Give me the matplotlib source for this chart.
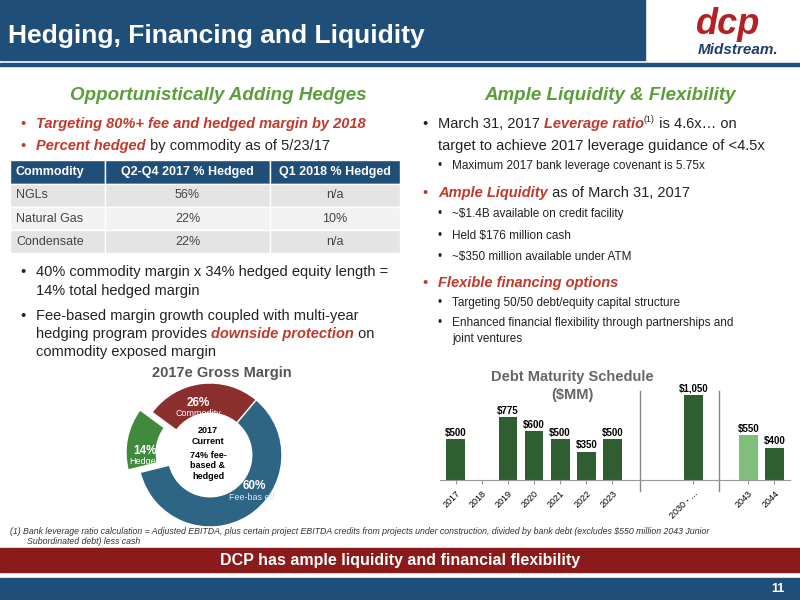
import matplotlib
matplotlib.use("Agg")
import matplotlib.pyplot as plt
from matplotlib.patches import Rectangle

plt.rcParams['font.family'] = ['Liberation Sans', 'DejaVu Sans']

# ---- data ----
table_header = ["Commodity", "Q2-Q4 2017 % Hedged", "Q1 2018 % Hedged"]
table_rows = [["NGLs", "56%", "n/a"], ["Natural Gas", "22%", "10%"], ["Condensate", "22%", "n/a"]]
donut_labels = ["Commodity", "Hedged", "Fee-based"]
donut_values = [26, 14, 60]
years = ["2017", "2018", "2019", "2020", "2021", "2022", "2023", "2030 - ...", "2043", "2044"]
debt = [500, 0, 775, 600, 500, 350, 500, 1050, 550, 400]
positions = [0, 1, 2, 3, 4, 5, 6, 9.1, 11.2, 12.2]

BLUE = "#1f4e79"
RED = "#c0392b"
GREEN = "#5a9e3a"
fig = plt.figure(figsize=(8, 6), dpi=100)
fig.patch.set_facecolor("white")

def fx(x): return x / 800
def fy(y): return 1 - y / 600

def T(x, y, s, **kw):
    kw.setdefault("va", "center")
    kw.setdefault("zorder", 10)
    return fig.text(fx(x), fy(y), s, **kw)

renderer = fig.canvas.get_renderer()
def runs(x, y, parts, size=10.5):
    for s, st in parts:
        kw = dict(fontsize=size, color="#222222")
        if st == "r":
            kw.update(color=RED, fontweight="bold", fontstyle="italic")
        elif st == "sup":
            kw.update(fontsize=size * 0.6)
        t = T(x, y - (4 if st == "sup" else 0), s, **kw)
        bb = t.get_window_extent(renderer)
        x += bb.width

# header bar
fig.add_artist(Rectangle((0, fy(60)), fx(645), 60 / 600, transform=fig.transFigure, color=BLUE))
fig.add_artist(Rectangle((0, fy(66)), 1, 3 / 600, transform=fig.transFigure, color=BLUE))
T(8, 36, "Hedging, Financing and Liquidity", color="white", fontsize=19, fontweight="bold")
T(728, 24, "dcp", color="#b22222", fontsize=26, fontweight="bold", fontstyle="italic", ha="center")
T(738, 50, "Midstream.", color="#1f3e6a", fontsize=11, fontweight="bold", fontstyle="italic", ha="center")

# footer
fig.add_artist(Rectangle((0, fy(572)), 1, 24 / 600, transform=fig.transFigure, color="#8b1a1a"))
T(400, 560, "DCP has ample liquidity and financial flexibility", color="white", fontsize=11.5, fontweight="bold", ha="center")
fig.add_artist(Rectangle((0, 0), 1, 22 / 600, transform=fig.transFigure, color=BLUE))
T(778, 589, "11", color="white", fontsize=9, fontweight="bold", ha="center")

# section headers
T(218, 95, "Opportunistically Adding Hedges", color=GREEN, fontsize=13.5, fontweight="bold", fontstyle="italic", ha="center")
T(610, 95, "Ample Liquidity & Flexibility", color=GREEN, fontsize=13.5, fontweight="bold", fontstyle="italic", ha="center")

# left bullets
T(20, 124, "•", color=RED, fontsize=10.5)
runs(36, 124, [("Targeting 80%+ fee and hedged margin by 2018", "r")])
T(20, 146, "•", color=RED, fontsize=10.5)
runs(36, 146, [("Percent hedged", "r"), (" by commodity as of 5/23/17", "n")])

# table
colx = [10, 105, 270, 400]
rowy = [160, 184, 207, 230, 253]
for j in range(3):
    fig.add_artist(Rectangle((fx(colx[j]), fy(rowy[1])), (colx[j + 1] - colx[j]) / 800, (rowy[1] - rowy[0]) / 600,
                             transform=fig.transFigure, facecolor=BLUE, edgecolor="white", lw=1))
    T(colx[j] + (6 if j == 0 else (colx[j + 1] - colx[j]) / 2), (rowy[0] + rowy[1]) / 2, table_header[j],
      color="white", fontsize=9, fontweight="bold", ha="left" if j == 0 else "center")
for i, row in enumerate(table_rows):
    fc = "#e4e4e4" if i % 2 == 0 else "#f2f2f2"
    for j in range(3):
        fig.add_artist(Rectangle((fx(colx[j]), fy(rowy[i + 2])), (colx[j + 1] - colx[j]) / 800, (rowy[i + 2] - rowy[i + 1]) / 600,
                                 transform=fig.transFigure, facecolor=fc, edgecolor="white", lw=1))
        T(colx[j] + (6 if j == 0 else (colx[j + 1] - colx[j]) / 2), (rowy[i + 1] + rowy[i + 2]) / 2, row[j],
          color="#444444", fontsize=9, ha="left" if j == 0 else "center")

T(20, 272, "•", fontsize=10.5, color="#222222")
runs(36, 272, [("40% commodity margin x 34% hedged equity length =", "n")])
runs(36, 291, [("14% total hedged margin", "n")])
T(20, 316, "•", fontsize=10.5, color="#222222")
runs(36, 316, [("Fee-based margin growth coupled with multi-year", "n")])
runs(36, 334, [("hedging program provides ", "n"), ("downside protection", "r"), (" on", "n")])
runs(36, 352, [("commodity exposed margin", "n")])

# right bullets
T(422, 124, "•", fontsize=10.5, color="#222222")
runs(438, 124, [("March 31, 2017 ", "n"), ("Leverage ratio", "r"), ("(1)", "sup"), (" is 4.6x… on", "n")])
runs(438, 146, [("target to achieve 2017 leverage guidance of <4.5x", "n")])
T(438, 166, "•", fontsize=8.5, color="#222222")
runs(452, 166, [("Maximum 2017 bank leverage covenant is 5.75x", "n")], size=8.5)
T(422, 193, "•", fontsize=10.5, color=RED)
runs(438, 193, [("Ample Liquidity", "r"), (" as of March 31, 2017", "n")])
for yy, s in [(214, "~$1.4B available on credit facility"), (236, "Held $176 million cash"),
              (257, "~$350 million available under ATM")]:
    T(438, yy, "•", fontsize=8.5, color="#222222")
    runs(452, yy, [(s, "n")], size=8.5)
T(422, 283, "•", fontsize=10.5, color=RED)
runs(438, 283, [("Flexible financing options", "r")])
for yy, s in [(303, "Targeting 50/50 debt/equity capital structure"),
              (323, "Enhanced financial flexibility through partnerships and")]:
    T(438, yy, "•", fontsize=8.5, color="#222222")
    runs(452, yy, [(s, "n")], size=8.5)
runs(452, 339, [("joint ventures", "n")], size=8.5)

# donut
T(222, 373, "2017e Gross Margin", color="#555555", fontsize=10.5, fontweight="bold", ha="center")
cx, cy, R = 210, 455, 72
half = 1.3 * R
axd = fig.add_axes([fx(cx - half), fy(cy + half), 2 * half / 800, 2 * half / 600])
cols = ["#8b2e2e", "#3f8a3c", "#2e6584"]
axd.pie(donut_values, startangle=50, counterclock=True, colors=cols, explode=[0, 0.17, 0],
        wedgeprops=dict(width=0.42, edgecolor="white", linewidth=1), radius=1)
axd.set_xlim(-1.3, 1.3)
axd.set_ylim(-1.3, 1.3)
axd.set_aspect("equal")
axd.set_axis_off()
T(198, 403, "26%", color="white", fontsize=8.5, fontweight="bold", ha="center")
T(198, 413, "Commodity", color="white", fontsize=6.5, ha="center")
T(145, 451, "14%", color="white", fontsize=8.5, fontweight="bold", ha="center")
T(145, 462, "Hedged", color="white", fontsize=6.5, ha="center")
T(254, 486, "60%", color="white", fontsize=8.5, fontweight="bold", ha="center")
T(252, 497, "Fee-bas ed", color="#d8e6f0", fontsize=6.5, ha="center")
T(208, 436, "2017\nCurrent", color="black", fontsize=6.5, fontweight="bold", ha="center", linespacing=1.2)
T(208, 466, "74% fee-\nbased &\nhedged", color="black", fontsize=6.5, fontweight="bold", ha="center", linespacing=1.2)

# bar chart
T(572, 386, "Debt Maturity Schedule\n($MM)", color="#666666", fontsize=10.5, fontweight="bold", ha="center", linespacing=1.3)
axb = fig.add_axes([fx(440), fy(480), 350 / 800, 90 / 600])
bcols = ["#2f5f30"] * len(debt)
bcols[8] = "#7fbf7b"
axb.bar(positions, debt, width=0.72, color=bcols)
for p, v in zip(positions, debt):
    if v:
        axb.text(p, v + 15, f"${v:,}", ha="center", va="bottom", fontsize=7, fontweight="bold")
axb.set_xlim(-0.6, 12.8)
axb.set_ylim(0, 1110)
axb.set_xticks(positions)
axb.set_xticklabels(years, rotation=45, ha="right", rotation_mode="anchor", fontsize=6.5)
axb.set_yticks([])
for s in ["top", "right", "left"]:
    axb.spines[s].set_visible(False)
axb.spines["bottom"].set_color("#999999")
axb.tick_params(axis="x", length=3, color="#999999")
for sx in [7.05, 10.1]:
    axb.plot([sx, sx], [-130, 1100], color="#888888", lw=1, clip_on=False)

# footnote
T(10, 531, "(1) Bank leverage ratio calculation = Adjusted EBITDA, plus certain project EBITDA credits from projects under construction, divided by bank debt (excludes $550 million 2043 Junior",
  fontsize=6.3, fontstyle="italic", color="#333333")
T(27, 542, "Subordinated debt) less cash", fontsize=6.3, fontstyle="italic", color="#333333")

fig.savefig("out.png", dpi=100)
